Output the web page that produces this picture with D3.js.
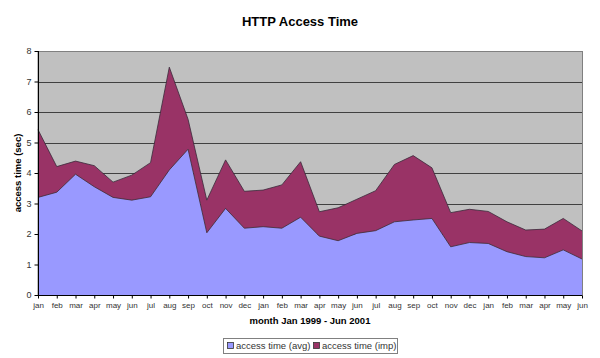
<!DOCTYPE html>
<html>
<head>
<meta charset="utf-8">
<script src="https://cdn.jsdelivr.net/npm/d3@7"></script>
<style>
  body { margin: 0; background: #fff; }
  svg { display: block; }
  text { font-family: Arial, "Liberation Sans", sans-serif; }
</style>
</head>
<body>
<svg id="chart" width="600" height="358"></svg>
<script>
const months = ["jan","feb","mar","apr","may","jun","jul","aug","sep","oct","nov","dec",
                "jan","feb","mar","apr","may","jun","jul","aug","sep","oct","nov","dec",
                "jan","feb","mar","apr","may","jun"];
const avgValues = [3.2,3.37,3.96,3.55,3.2,3.11,3.22,4.1,4.78,2.04,2.84,2.19,
                   2.24,2.19,2.55,1.93,1.78,2.02,2.11,2.4,2.46,2.51,1.58,1.72,
                   1.69,1.42,1.26,1.22,1.48,1.18];
const impValues = [2.22,0.84,0.43,0.69,0.5,0.82,1.12,3.37,0.98,1.07,1.59,1.21,
                   1.2,1.42,1.82,0.8,1.08,1.12,1.31,1.88,2.11,1.66,1.12,1.09,
                   1.05,0.98,0.87,0.94,1.03,0.92];
const yTicks = [0,1,2,3,4,5,6,7,8];
const seriesNames = ["access time (avg)", "access time (imp)"];
const seriesColors = ["#9999FF", "#993366"];
const titleText = "HTTP Access Time";
const xTitle = "month Jan 1999 - Jun 2001";
const yTitle = "access time (sec)";

const svg = d3.select("#chart");
const pLeft = 38, pRight = 582, pTop = 51, pBottom = 295;

const idx = months.map((m, i) => i);
const x = d3.scaleLinear().domain([0, months.length - 1]).range([pLeft, pRight]);
const y = d3.scaleLinear().domain([0, 8]).range([pBottom, pTop]);

const rows = idx.map(i => ({ i, avg: avgValues[i], imp: impValues[i] }));
const stack = d3.stack().keys(["avg", "imp"]);
const layers = stack(rows);

// plot background
svg.append("rect")
  .attr("x", pLeft).attr("y", pTop + 0.5)
  .attr("width", pRight - pLeft + 0.5).attr("height", pBottom - pTop)
  .attr("fill", "#C0C0C0").attr("stroke", "#808080").attr("stroke-width", 1);

// gridlines
svg.append("g").selectAll("line")
  .data(yTicks.filter(t => t > 0 && t < 8))
  .join("line")
  .attr("x1", pLeft).attr("x2", pRight)
  .attr("y1", d => Math.round(y(d)) + 0.5).attr("y2", d => Math.round(y(d)) + 0.5)
  .attr("stroke", "#404040").attr("stroke-width", 1);

// areas
const area = d3.area()
  .x(d => x(d.data.i))
  .y0(d => y(d[0]))
  .y1(d => y(d[1]));
const topLine = d3.line()
  .x(d => x(d.data.i))
  .y(d => y(d[1]));

svg.append("g").selectAll("path.area")
  .data(layers)
  .join("path")
  .attr("class", "area")
  .attr("d", area)
  .attr("fill", (d, i) => seriesColors[i]);

svg.append("g").selectAll("path.line")
  .data(layers)
  .join("path")
  .attr("class", "line")
  .attr("d", topLine)
  .attr("fill", "none")
  .attr("stroke", "#3a2a3a")
  .attr("stroke-width", 0.8);

// right border redraw
svg.append("line")
  .attr("x1", pRight + 0.5).attr("x2", pRight + 0.5)
  .attr("y1", pTop).attr("y2", pBottom)
  .attr("stroke", "#808080");

// y axis
const yAxis = d3.axisLeft(y).tickValues(yTicks).tickSize(4).tickPadding(3).tickFormat(d3.format("d"));
const gy = svg.append("g").attr("transform", `translate(${pLeft + 0.5},0)`).call(yAxis);
gy.select(".domain").attr("stroke", "#000").attr("d", `M0,${y(0)}V${y(8)}`);
gy.selectAll(".tick line").attr("stroke", "#000");
gy.selectAll("text").attr("font-size", 9).attr("fill", "#333").attr("font-family", "Arial, 'Liberation Sans', sans-serif");

// x axis
const xAxis = d3.axisBottom(x).tickValues(idx).tickSize(3).tickPadding(4).tickFormat(i => months[i]);
const gx = svg.append("g").attr("transform", `translate(0,${pBottom + 0.5})`).call(xAxis);
gx.select(".domain").attr("stroke", "#000").attr("d", `M${pLeft},0H${pRight}`);
gx.selectAll(".tick line").attr("stroke", "#000");
gx.selectAll("text").attr("font-size", 8).attr("fill", "#333").attr("font-family", "Arial, 'Liberation Sans', sans-serif");

// titles
svg.append("text").attr("x", 300).attr("y", 26)
  .attr("text-anchor", "middle").attr("font-size", 13).attr("font-weight", "bold")
  .attr("fill", "#000").text(titleText);

svg.append("text").attr("x", (pLeft + pRight) / 2).attr("y", 324)
  .attr("text-anchor", "middle").attr("font-size", 9.5).attr("font-weight", "bold")
  .attr("fill", "#000").text(xTitle);

svg.append("text")
  .attr("transform", `translate(21,${(pTop + pBottom) / 2}) rotate(-90)`)
  .attr("text-anchor", "middle").attr("font-size", 9.5).attr("font-weight", "bold")
  .attr("fill", "#000").text(yTitle);

// legend
const legX = 223, legY = 338, legW = 174, legH = 15;
svg.append("rect").attr("x", legX + 0.5).attr("y", legY + 0.5)
  .attr("width", legW).attr("height", legH)
  .attr("fill", "#fff").attr("stroke", "#808080");
const legItems = [{ x: legX + 4 }, { x: legX + 90 }];
const lg = svg.append("g").selectAll("g").data(seriesNames).join("g")
  .attr("transform", (d, i) => `translate(${legItems[i].x},${legY})`);
lg.append("rect").attr("x", 0.5).attr("y", 4.5).attr("width", 6).attr("height", 6)
  .attr("fill", (d, i) => seriesColors[i]).attr("stroke", "#333").attr("stroke-width", 0.8);
lg.append("text").attr("x", 9).attr("y", 11).attr("font-size", 9.5).attr("fill", "#333").text(d => d);
</script>
</body>
</html>
